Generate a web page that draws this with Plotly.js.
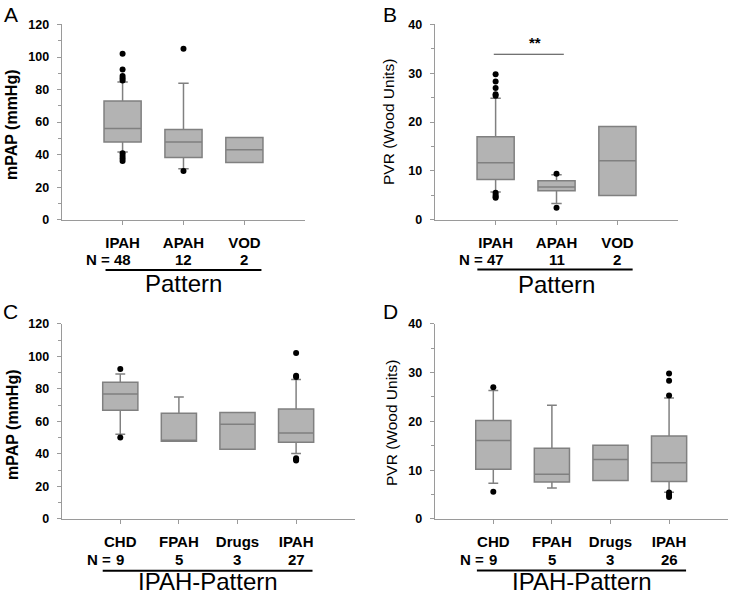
<!DOCTYPE html>
<html>
<head>
<meta charset="utf-8">
<script src="https://cdn.plot.ly/plotly-3.0.1.min.js"></script>
<style>html,body{margin:0;padding:0;background:#fff;}#chart{width:730px;height:594px;}</style>
</head>
<body>
<div id="chart"></div>
<script>
// ---------- Data ----------
// Panel A: mPAP by Pattern
const catsA = ['IPAH', 'APAH', 'VOD'];
const nA = [48, 12, 2];
const mpapQ1 = [47.7, 38.3, 35.2];
const mpapMedian = [56.1, 47.7, 43.0];
const mpapQ3 = [72.9, 55.5, 50.6];
const mpapLow = [41.6, 31.4, 35.2];
const mpapHigh = [84.6, 83.8, 50.6];
const mpapOutX = ['IPAH','IPAH','IPAH','IPAH','IPAH','IPAH','IPAH','IPAH','IPAH','APAH','APAH'];
const mpapOutY = [102, 92.4, 88.3, 86.9, 85.5, 40.8, 39.1, 37.7, 36.1, 105.1, 29.9];

// Panel B: PVR by Pattern
const catsB = ['IPAH', 'APAH', 'VOD'];
const nB = [47, 11, 2];
const pvrQ1 = [8.26, 5.94, 4.98];
const pvrMedian = [11.67, 6.7, 12.1];
const pvrQ3 = [17.0, 8.0, 19.1];
const pvrLow = [5.67, 3.3, 4.98];
const pvrHigh = [24.9, 9.2, 19.1];
const pvrOutX = ['IPAH','IPAH','IPAH','IPAH','IPAH','IPAH','IPAH','IPAH','IPAH','APAH','APAH'];
const pvrOutY = [29.8, 28.3, 27.0, 25.7, 25.4, 5.5, 5.05, 4.7, 4.5, 9.4, 2.46];

// Panel C: mPAP by IPAH-Pattern
const catsC = ['CHD', 'FPAH', 'Drugs', 'IPAH'];
const nC = [9, 5, 3, 27];
const ipMpapQ1 = [66.8, 47.7, 42.8, 47.1];
const ipMpapMedian = [76.8, 47.7, 58.2, 52.9];
const ipMpapQ3 = [84.0, 65.0, 65.4, 67.6];
const ipMpapLow = [52.0, 47.7, 42.8, 40.2];
const ipMpapHigh = [89.1, 75.0, 65.4, 85.7];
const ipMpapOutX = ['CHD','CHD','IPAH','IPAH','IPAH','IPAH','IPAH','IPAH'];
const ipMpapOutY = [92.2, 50.0, 102, 88.1, 87.3, 37.3, 36.5, 35.9];

// Panel D: PVR by IPAH-Pattern
const catsD = ['CHD', 'FPAH', 'Drugs', 'IPAH'];
const nD = [9, 5, 3, 26];
const ipPvrQ1 = [10.2, 7.6, 7.9, 7.7];
const ipPvrMedian = [16.1, 9.15, 12.2, 11.5];
const ipPvrQ3 = [20.2, 14.5, 15.1, 17.0];
const ipPvrLow = [7.3, 6.35, 7.9, 5.5];
const ipPvrHigh = [26.3, 23.3, 15.1, 24.8];
const ipPvrOutX = ['CHD','CHD','IPAH','IPAH','IPAH','IPAH','IPAH','IPAH'];
const ipPvrOutY = [27.0, 5.6, 29.8, 28.3, 25.3, 5.4, 4.9, 4.5];

// ---------- Styling ----------
const FONT = 'Arial, "Liberation Sans", sans-serif';
const FILL = '#b3b3b3';
const EDGE = '#808080';
const AXIS = '#9a9a9a';

function boxTrace(cats, q1, med, q3, lo, hi, xa, ya, w) {
  return {
    type: 'box', x: cats, q1: q1, median: med, q3: q3,
    lowerfence: lo, upperfence: hi,
    xaxis: xa, yaxis: ya, width: w, whiskerwidth: 0.28,
    fillcolor: FILL, line: {color: EDGE, width: 1.5},
    boxpoints: false, hoverinfo: 'skip', showlegend: false
  };
}
function outTrace(xs, ys, xa, ya) {
  return {
    type: 'scatter', mode: 'markers', x: xs, y: ys, xaxis: xa, yaxis: ya,
    marker: {color: '#000', size: 6}, hoverinfo: 'skip', showlegend: false
  };
}

const data = [
  boxTrace(catsA, mpapQ1, mpapMedian, mpapQ3, mpapLow, mpapHigh, 'x', 'y', 0.61),
  outTrace(mpapOutX, mpapOutY, 'x', 'y'),
  boxTrace(catsB, pvrQ1, pvrMedian, pvrQ3, pvrLow, pvrHigh, 'x2', 'y2', 0.61),
  outTrace(pvrOutX, pvrOutY, 'x2', 'y2'),
  boxTrace(catsC, ipMpapQ1, ipMpapMedian, ipMpapQ3, ipMpapLow, ipMpapHigh, 'x3', 'y3', 0.6),
  outTrace(ipMpapOutX, ipMpapOutY, 'x3', 'y3'),
  boxTrace(catsD, ipPvrQ1, ipPvrMedian, ipPvrQ3, ipPvrLow, ipPvrHigh, 'x4', 'y4', 0.6),
  outTrace(ipPvrOutX, ipPvrOutY, 'x4', 'y4')
];

function xAxis(domain, cats, range, anchor) {
  return {
    domain: domain, anchor: anchor, type: 'category', categoryorder: 'array', categoryarray: cats,
    range: range, showline: true, linecolor: AXIS, linewidth: 1, showgrid: false, zeroline: false,
    ticks: 'outside', ticklen: 4, tickcolor: AXIS, ticklabelstandoff: 5,
    tickfont: {family: FONT, size: 15, color: '#000', weight: 700}, fixedrange: true
  };
}
function yAxis(domain, range, dtick, minor, anchor) {
  return {
    domain: domain, anchor: anchor, range: range, dtick: dtick, tick0: 0,
    showline: true, linecolor: AXIS, linewidth: 1, showgrid: false, zeroline: false,
    ticks: 'outside', ticklen: 4, tickcolor: AXIS, ticklabelstandoff: 5,
    minor: {dtick: minor, ticks: 'outside', ticklen: 3, tickcolor: AXIS, showgrid: false},
    tickfont: {family: FONT, size: 12.5, color: '#000', weight: 700}, fixedrange: true
  };
}

const yTop = [0.6301, 0.9588];
const yBot = [0.1263, 0.455];

const annotations = [];
const shapes = [];
function py(v) { return (594 - v) / 594; }

function bottomLabels(xref, nums, cats, nRowY, lineY, lineX0, lineX1, title, titleX, titleY, firstShift) {
  nums.forEach((n, i) => {
    annotations.push({xref: xref, yref: 'paper', x: cats[i], y: py(nRowY), text: String(n),
      showarrow: false, xanchor: 'center', yanchor: 'middle',
      font: {family: FONT, size: 15, color: '#000', weight: 700}});
  });
  annotations.push({xref: xref, yref: 'paper', x: cats[0], y: py(nRowY), text: 'N =',
    showarrow: false, xanchor: 'right', yanchor: 'middle', xshift: firstShift,
    font: {family: FONT, size: 15, color: '#000', weight: 700}});
  shapes.push({type: 'line', xref: xref, yref: 'paper', x0: lineX0, x1: lineX1,
    y0: py(lineY), y1: py(lineY), line: {color: '#000', width: 2}});
  annotations.push({xref: xref, yref: 'paper', x: titleX, y: py(titleY), text: title,
    showarrow: false, xanchor: 'center', yanchor: 'middle',
    font: {family: FONT, size: 24, color: '#000'}});
}

bottomLabels('x', nA, catsA, 259, 270, -0.28, 2.28, 'Pattern', 1, 283, -11);
bottomLabels('x2', nB, catsB, 259, 269.5, -0.30, 2.25, 'Pattern', 1, 284, -11);
bottomLabels('x3', nC, catsC, 559, 570.7, -0.30, 3.28, 'IPAH-Pattern', 1.5, 581, -7);
bottomLabels('x4', nD, catsD, 559, 570.5, -0.28, 3.29, 'IPAH-Pattern', 1.51, 581, -7);

function yTitle(text, xpx, ypx, bold, size) {
  annotations.push({xref: 'paper', yref: 'paper', x: xpx / 730, y: py(ypx), text: text,
    textangle: -90, showarrow: false, xanchor: 'center', yanchor: 'middle',
    font: {family: FONT, size: size, color: '#000', weight: bold ? 700 : 400}});
}
yTitle('mPAP (mmHg)', 12, 125, true, 16);
yTitle('PVR (Wood Units)', 389, 122, false, 15.5);
yTitle('mPAP (mmHg)', 12, 425, true, 16);
yTitle('PVR (Wood Units)', 391, 423, false, 15.5);

function letter(t, xpx, ypx) {
  annotations.push({xref: 'paper', yref: 'paper', x: xpx / 730, y: py(ypx), text: t,
    showarrow: false, xanchor: 'center', yanchor: 'middle',
    font: {family: FONT, size: 21, color: '#000'}});
}
letter('A', 11, 14);
letter('B', 390, 14);
letter('C', 10, 311);
letter('D', 390, 311);

// significance bar in B
shapes.push({type: 'line', xref: 'x2', yref: 'y2', x0: -0.03, x1: 1.12, y0: 33.9, y1: 33.9,
  line: {color: '#444', width: 1}});
annotations.push({xref: 'x2', yref: 'y2', x: 0.64, y: 34.2, text: '**', showarrow: false,
  xanchor: 'center', yanchor: 'bottom', font: {family: FONT, size: 15, color: '#000', weight: 700}});

const layout = {
  width: 730, height: 594,
  margin: {l: 0, r: 0, t: 0, b: 0},
  paper_bgcolor: '#fff', plot_bgcolor: 'rgba(0,0,0,0)',
  showlegend: false,
  font: {family: FONT},
  xaxis: xAxis([0.0845, 0.4182], catsA, [-1, 3], 'y'),
  yaxis: yAxis(yTop, [0, 120], 20, 10, 'x'),
  xaxis2: xAxis([0.5955, 0.9292], catsB, [-1, 3], 'y2'),
  yaxis2: yAxis(yTop, [0, 40], 10, 5, 'x2'),
  xaxis3: xAxis([0.0845, 0.4859], catsC, [-1, 4], 'y3'),
  yaxis3: yAxis(yBot, [0, 120], 20, 10, 'x3'),
  xaxis4: xAxis([0.5955, 0.9968], catsD, [-1, 4], 'y4'),
  yaxis4: yAxis(yBot, [0, 40], 10, 5, 'x4'),
  annotations: annotations,
  shapes: shapes
};

Plotly.newPlot('chart', data, layout, {staticPlot: true, displayModeBar: false});
</script>
</body>
</html>
